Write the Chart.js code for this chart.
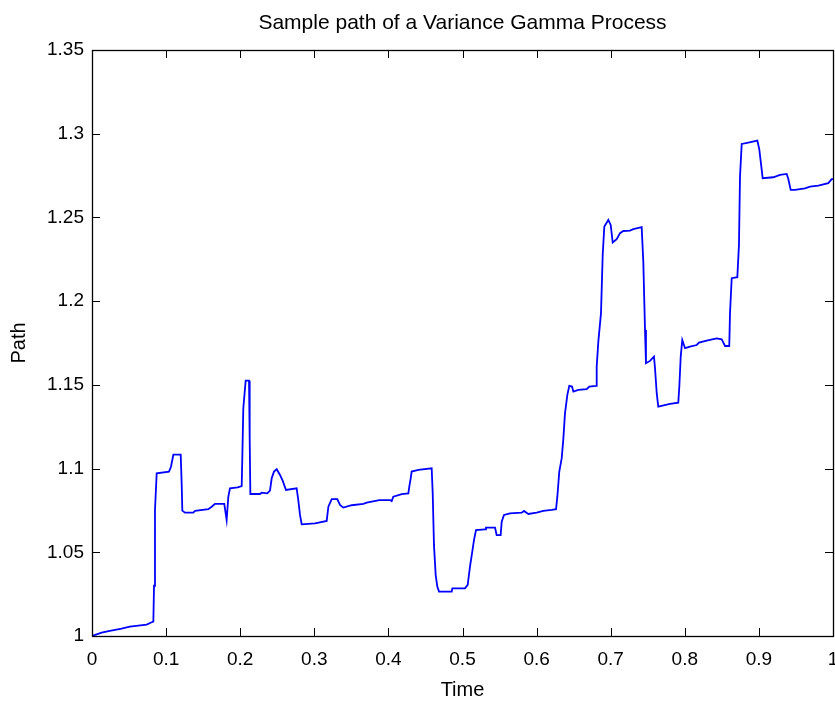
<!DOCTYPE html>
<html>
<head>
<meta charset="utf-8">
<script src="https://cdn.jsdelivr.net/npm/chart.js@4"></script>
<style>
  html, body { margin: 0; padding: 0; background: #fff; }
  #wrap { width: 835px; height: 702px; }
</style>
</head>
<body>
<div id="wrap"><canvas id="c" width="835" height="702"></canvas></div>
<script>
// ---- data ----
const times = [0, 0.013, 0.024, 0.040, 0.051, 0.0625, 0.0738, 0.0805, 0.0828, 0.0837,
  0.085, 0.0873, 0.1039, 0.1066, 0.1098, 0.1197, 0.121, 0.1219, 0.1255, 0.1367,
  0.139, 0.157, 0.1615, 0.166, 0.1785, 0.1817, 0.184, 0.1862, 0.1966, 0.202,
  0.2028, 0.2042, 0.2074, 0.2119, 0.2128, 0.2137, 0.2267, 0.229, 0.2366, 0.2402,
  0.2425, 0.2456, 0.2493, 0.2537, 0.2573, 0.2618, 0.2762, 0.2784, 0.2807, 0.283,
  0.301, 0.3167, 0.319, 0.3235, 0.331, 0.3347, 0.3392, 0.3504, 0.3662, 0.3707,
  0.3877, 0.4022, 0.4044, 0.4066, 0.418, 0.4269, 0.4282, 0.4301, 0.4314, 0.4404,
  0.4584, 0.4598, 0.4615, 0.4638, 0.466, 0.4683, 0.4854, 0.4863, 0.5034, 0.507,
  0.5101, 0.5132, 0.5155, 0.5182, 0.5304, 0.5317, 0.5439, 0.5461, 0.5515, 0.5529,
  0.556, 0.5641, 0.5799, 0.583, 0.5888, 0.6001, 0.609, 0.6204, 0.6262, 0.628,
  0.6306, 0.6339, 0.636, 0.6383, 0.6415, 0.6441, 0.6478, 0.6496, 0.6563, 0.6676,
  0.6711, 0.6802, 0.6811, 0.6833, 0.6869, 0.6892, 0.6914, 0.6968, 0.7, 0.7027,
  0.7081, 0.7126, 0.717, 0.726, 0.7305, 0.7418, 0.744, 0.7463, 0.7476, 0.753,
  0.7584, 0.7598, 0.7621, 0.7642, 0.78, 0.7912, 0.7926, 0.7945, 0.7966, 0.8003,
  0.807, 0.816, 0.8192, 0.8295, 0.843, 0.8498, 0.8543, 0.86, 0.861, 0.8633,
  0.8709, 0.8731, 0.8745, 0.8768, 0.8857, 0.8979, 0.9005, 0.9038, 0.9051, 0.9195,
  0.9285, 0.9375, 0.9397, 0.9429, 0.9487, 0.9622, 0.969, 0.9802, 0.9937, 0.9982,
  1.0];

const pathValues = [1.000, 1.002, 1.003, 1.0044, 1.0056, 1.0062, 1.0068, 1.0082, 1.0086, 1.030,
  1.0753, 1.0972, 1.0982, 1.1011, 1.1083, 1.1083, 1.0912, 1.0749, 1.0737, 1.0737,
  1.0747, 1.0757, 1.0772, 1.0789, 1.0789, 1.0693, 1.0832, 1.0882, 1.0888, 1.0896,
  1.1051, 1.136, 1.1525, 1.1525, 1.1181, 1.0848, 1.0848, 1.0856, 1.0852, 1.0868,
  1.0942, 1.0982, 1.0996, 1.0962, 1.0928, 1.0872, 1.0882, 1.0812, 1.0723, 1.0667,
  1.0673, 1.0687, 1.0772, 1.0817, 1.0817, 1.0783, 1.0767, 1.0781, 1.0789, 1.0797,
  1.0812, 1.0812, 1.0806, 1.0832, 1.0848, 1.0852, 1.0892, 1.0942, 1.0982, 1.0992,
  1.1002, 1.0852, 1.0544, 1.0364, 1.0295, 1.0265, 1.0265, 1.0285, 1.0285, 1.0305,
  1.0414, 1.0504, 1.0573, 1.0633, 1.0637, 1.0647, 1.0647, 1.0603, 1.0603, 1.0683,
  1.0723, 1.0733, 1.0737, 1.0747, 1.0729, 1.0737, 1.0747, 1.0753, 1.0757, 1.0832,
  1.0982, 1.1062, 1.1171, 1.133, 1.144, 1.1494, 1.149, 1.146, 1.147, 1.1474,
  1.149, 1.1494, 1.1609, 1.1758, 1.1928, 1.2276, 1.2445, 1.2485, 1.2455, 1.235,
  1.237, 1.2406, 1.2419, 1.2421, 1.243, 1.2442, 1.2236, 1.1828, 1.1629, 1.1643,
  1.1669, 1.1599, 1.145, 1.137, 1.1386, 1.1394, 1.1489, 1.1669, 1.1768, 1.1719,
  1.1728, 1.1738, 1.1752, 1.1764, 1.1778, 1.1772, 1.1732, 1.1732, 1.1928, 1.2137,
  1.2143, 1.2336, 1.2744, 1.2939, 1.2947, 1.2959, 1.2908, 1.2784, 1.2734, 1.274,
  1.2754, 1.276, 1.2729, 1.2664, 1.2664, 1.2674, 1.2684, 1.269, 1.2705, 1.2729,
  1.2729];

const xTickValues = [0, 0.1, 0.2, 0.3, 0.4, 0.5, 0.6, 0.7, 0.8, 0.9, 1];
const xTickLabels = ['0', '0.1', '0.2', '0.3', '0.4', '0.5', '0.6', '0.7', '0.8', '0.9', '1'];
const yTickValues = [1, 1.05, 1.1, 1.15, 1.2, 1.25, 1.3, 1.35];
const yTickLabels = ['1', '1.05', '1.1', '1.15', '1.2', '1.25', '1.3', '1.35'];

const chartTitle = 'Sample path of a Variance Gamma Process';
const xTitle = 'Time';
const yTitle = 'Path';

// ---- chart ----
const points = times.map((t, i) => ({ x: t, y: pathValues[i] }));
const FONT = '"Liberation Sans", Arial, Helvetica, sans-serif';

const boxAndTicks = {
  id: 'boxAndTicks',
  afterDatasetsDraw(chart) {
    const { ctx, chartArea: a, scales } = chart;
    const len = 8;
    ctx.save();
    ctx.strokeStyle = '#000';
    ctx.lineWidth = 1;
    ctx.beginPath();
    scales.x.ticks.forEach(tk => {
      const px = Math.round(scales.x.getPixelForValue(tk.value)) + 0.5;
      ctx.moveTo(px, a.bottom); ctx.lineTo(px, a.bottom - len);
      ctx.moveTo(px, a.top); ctx.lineTo(px, a.top + len);
    });
    scales.y.ticks.forEach(tk => {
      const py = Math.round(scales.y.getPixelForValue(tk.value)) + 0.5;
      ctx.moveTo(a.left, py); ctx.lineTo(a.left + len, py);
      ctx.moveTo(a.right, py); ctx.lineTo(a.right - len, py);
    });
    ctx.stroke();
    ctx.lineWidth = 1.3;
    ctx.strokeRect(Math.round(a.left) + 0.5, Math.round(a.top) + 0.5,
                   Math.round(a.right - a.left), Math.round(a.bottom - a.top));
    ctx.restore();
  }
};

new Chart(document.getElementById('c'), {
  type: 'line',
  data: {
    datasets: [{
      label: 'Path',
      data: points,
      borderColor: '#0000ff',
      borderWidth: 1.8,
      pointRadius: 0,
      tension: 0,
      fill: false
    }]
  },
  options: {
    responsive: false,
    animation: false,
    layout: { padding: { left: 0, right: 2, top: 0, bottom: 0 } },
    plugins: {
      legend: { display: false },
      tooltip: { enabled: false },
      title: {
        display: true,
        fullSize: false,
        text: chartTitle,
        color: '#000',
        font: { family: FONT, size: 21, weight: 'normal', lineHeight: 1.2 },
        padding: { top: 11, bottom: 13.8 }
      }
    },
    scales: {
      x: {
        type: 'linear',
        min: 0, max: 1,
        afterBuildTicks: s => { s.ticks = xTickValues.map(v => ({ value: v })); },
        afterFit: s => { s.height = 66; s.paddingLeft = 0; s.paddingRight = 0; },
        grid: { display: false, drawTicks: false },
        border: { display: false },
        ticks: {
          color: '#000',
          padding: 12,
          maxRotation: 0,
          autoSkip: false,
          font: { family: FONT, size: 19 },
          callback: (v) => xTickLabels[xTickValues.indexOf(v)] ?? ''
        },
        title: {
          display: true, text: xTitle, color: '#000',
          font: { family: FONT, size: 20, lineHeight: 1.2 },
          padding: { top: 0, bottom: 0 }
        }
      },
      y: {
        type: 'linear',
        min: 1, max: 1.35,
        afterBuildTicks: s => { s.ticks = yTickValues.map(v => ({ value: v })); },
        afterFit: s => { s.width = 92; s.paddingTop = 0; s.paddingBottom = 0; },
        grid: { display: false, drawTicks: false },
        border: { display: false },
        ticks: {
          color: '#000',
          padding: 8,
          autoSkip: false,
          font: { family: FONT, size: 19 },
          callback: (v) => yTickLabels[yTickValues.indexOf(v)] ?? ''
        },
        title: {
          display: true, text: yTitle, color: '#000',
          font: { family: FONT, size: 20, lineHeight: 1.2 },
          padding: { top: 7, bottom: 0 }
        }
      }
    }
  },
  plugins: [boxAndTicks]
});
</script>
</body>
</html>
